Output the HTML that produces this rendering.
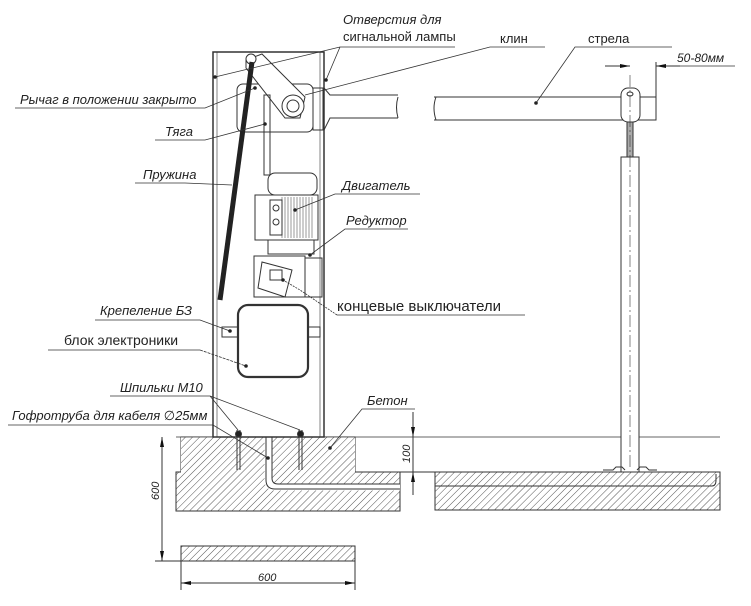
<!DOCTYPE html>
<html><head><meta charset="utf-8"><style>
html,body{margin:0;padding:0;background:#fff;width:751px;height:606px;overflow:hidden}
svg{display:block}
text{font-family:"Liberation Sans","DejaVu Sans",sans-serif;font-style:italic;font-size:13px;fill:#222}
</style></head><body>
<svg width="751" height="606" viewBox="0 0 751 606" xmlns="http://www.w3.org/2000/svg">
<defs>
<pattern id="h" width="5" height="5" patternUnits="userSpaceOnUse" patternTransform="rotate(45)">
<rect width="5" height="5" fill="#fff"/><line x1="0" y1="0" x2="0" y2="5" stroke="#555" stroke-width="1"/>
</pattern>
<marker id="a" viewBox="0 0 10 4" refX="10" refY="2" markerWidth="10" markerHeight="4" orient="auto-start-reverse" markerUnits="userSpaceOnUse"><path d="M0,0L10,2L0,4z" fill="#111"/></marker>
</defs>
<g stroke="#333" fill="none" stroke-width="1">
<!-- foundations -->
<rect x="181" y="437" width="174" height="40" fill="url(#h)"/>
<rect x="176" y="472" width="224" height="39" fill="url(#h)"/>
<rect x="181" y="437" width="174" height="40" fill="url(#h)" stroke="none"/>
<rect x="435" y="472" width="285" height="38" fill="url(#h)"/>
<rect x="181" y="546" width="174" height="15" fill="url(#h)"/>
<line x1="176" y1="437" x2="720" y2="437" stroke-width="0.8"/>
<!-- conduit -->
<path d="M268,437V480Q268,487 275,487H400" stroke="#fff" stroke-width="7"/>
<path d="M266,437V480Q266,489 275,489H400M272,437V478Q272,484 278,484H400"/>
<path d="M435,486H712Q716,486 716,480V474" stroke-width="1"/>
<!-- housing -->
<rect x="213" y="52" width="111" height="385" stroke-width="1.5" fill="#fff"/>
<line x1="217" y1="52" x2="217" y2="437" stroke-width="0.6"/>
<line x1="320" y1="52" x2="320" y2="437" stroke-width="0.6"/>
<!-- bolts -->
<path d="M237,430V470M240,430V470M299,430V470M302,430V470"/>
<circle cx="238.5" cy="434" r="3" fill="#222"/><circle cx="300.5" cy="434" r="3" fill="#222"/>
<!-- top mechanism -->
<rect x="237" y="84" width="76" height="48" rx="6"/>
<rect x="313" y="88" width="10" height="42"/>
<path d="M324,88L330,95H398M324,130L330,118H398"/>
<path d="M398,97Q395,107 398,118" />
<path d="M246,60L262,54L305,97L300,118L285,118L246,68Z" fill="#fff"/>
<circle cx="251" cy="59" r="5" fill="#fff"/>
<circle cx="293" cy="106" r="11" fill="#fff"/><circle cx="293" cy="106" r="6"/>
<rect x="264" y="95" width="6" height="80"/>
<!-- spring -->
<line x1="252" y1="62" x2="220" y2="300" stroke="#222" stroke-width="5"/>
<!-- motor -->
<rect x="268" y="173" width="49" height="22" rx="7" fill="#fff"/>
<rect x="255" y="195" width="63" height="45" fill="#fff"/>
<path d="M282,197V238M285,197V238M288,197V238M291,197V238M294,197V238M297,197V238M300,197V238M303,197V238M306,197V238M309,197V238M312,197V238" stroke-width="0.5"/>
<rect x="270" y="200" width="12" height="35"/><circle cx="276" cy="208" r="3"/><circle cx="276" cy="222" r="3"/>
<rect x="268" y="240" width="46" height="14" fill="#fff"/>
<!-- gearbox -->
<rect x="254" y="256" width="51" height="41" fill="#fff"/>
<rect x="305" y="258" width="17" height="39"/>
<path d="M262,262L292,270L285,297L258,288Z"/>
<rect x="270" y="270" width="12" height="10"/>
<!-- electronics -->
<rect x="238" y="305" width="70" height="72" rx="10" stroke-width="2.2"/>
<rect x="222" y="327" width="16" height="10"/><rect x="308" y="327" width="12" height="10"/>
<!-- boom -->
<path d="M434,97H656V120H434M436,97Q432,108 436,120"/>
<rect x="621" y="88" width="19" height="34" rx="7" fill="#fff"/>
<ellipse cx="630" cy="94" rx="3" ry="2"/>
<rect x="627" y="122" width="6" height="35" fill="#aaa"/>
<rect x="621" y="157" width="18" height="315" fill="#fff"/>
<line x1="630" y1="75" x2="630" y2="470" stroke-dasharray="12,3,2,3" stroke-width="0.6"/>
<path d="M603,470h10l3-3h6l3,3M637,470l3-3h6l3,3h8"/>
<line x1="656" y1="62" x2="656" y2="120"/>
<line x1="605" y1="66" x2="630" y2="66" marker-end="url(#a)"/>
<line x1="680" y1="66" x2="656" y2="66" marker-end="url(#a)"/>
<!-- dims -->
<line x1="162" y1="437" x2="162" y2="561" marker-start="url(#a)" marker-end="url(#a)"/>
<line x1="155" y1="561" x2="181" y2="561"/>
<line x1="181" y1="561" x2="181" y2="590"/><line x1="355" y1="561" x2="355" y2="590"/>
<line x1="181" y1="583" x2="355" y2="583" marker-start="url(#a)" marker-end="url(#a)"/>
<line x1="413" y1="412" x2="413" y2="437" marker-end="url(#a)"/>
<line x1="413" y1="495" x2="413" y2="472" marker-end="url(#a)"/>
<line x1="413" y1="437" x2="413" y2="472"/>
<line x1="400" y1="472" x2="435" y2="472"/>
<!-- leaders -->
<g stroke-width="0.8">
<path d="M455,47H340L215,77M340,47L326,80"/>
<path d="M545,47H490L305,95"/>
<path d="M672,47H575L536,103"/>
<path d="M672,66H735"/>
<path d="M15,108H205L255,88"/>
<path d="M155,140H205L265,124"/>
<path d="M135,183H185L232,185"/>
<path d="M420,194H335L295,210"/>
<path d="M408,229H345L310,255"/>
<path d="M525,315H337"/>
<path d="M337,315L300,290L283,280" stroke-dasharray="2,1"/>
<path d="M95,320H200L230,331"/>
<path d="M48,350H200"/>
<path d="M200,350L246,366" stroke-dasharray="3,1"/>
<path d="M110,396H210L238,430M210,396L300,430"/>
<path d="M8,425H213L268,458"/>
<path d="M415,409H362L330,448"/>
</g>
</g>
<g fill="#222">
<circle cx="215" cy="77" r="1.8"/><circle cx="326" cy="80" r="1.8"/><circle cx="255" cy="88" r="1.8"/><circle cx="265" cy="124" r="1.8"/><circle cx="536" cy="103" r="1.8"/><circle cx="295" cy="210" r="1.8"/><circle cx="310" cy="255" r="1.8"/><circle cx="283" cy="280" r="1.8"/><circle cx="230" cy="331" r="1.8"/><circle cx="246" cy="366" r="1.8"/><circle cx="268" cy="458" r="1.8"/><circle cx="330" cy="448" r="1.8"/>
</g>
<text x="343" y="24">Отверстия для</text>
<text x="343" y="41" style="font-style:normal">сигнальной лампы</text>
<text x="500" y="43" style="font-style:normal">клин</text>
<text x="588" y="43" style="font-style:normal">стрела</text>
<text x="677" y="62" style="font-size:12px">50-80мм</text>
<text x="20" y="104">Рычаг в положении закрыто</text>
<text x="165" y="136">Тяга</text>
<text x="143" y="179">Пружина</text>
<text x="342" y="190">Двигатель</text>
<text x="346" y="225">Редуктор</text>
<text x="337" y="311" style="font-style:normal;font-size:15px">концевые выключатели</text>
<text x="100" y="315">Крепеление БЗ</text>
<text x="64" y="345" style="font-style:normal;font-size:14px">блок электроники</text>
<text x="120" y="392">Шпильки М10</text>
<text x="12" y="420">Гофротруба для кабеля ∅25мм</text>
<text x="367" y="405">Бетон</text>
<text x="0" y="0" transform="translate(159,500) rotate(-90)" style="font-size:11px">600</text>
<text x="0" y="0" transform="translate(410,463) rotate(-90)" style="font-size:11px">100</text>
<text x="258" y="581" style="font-size:11px">600</text>
</svg>
</body></html>
